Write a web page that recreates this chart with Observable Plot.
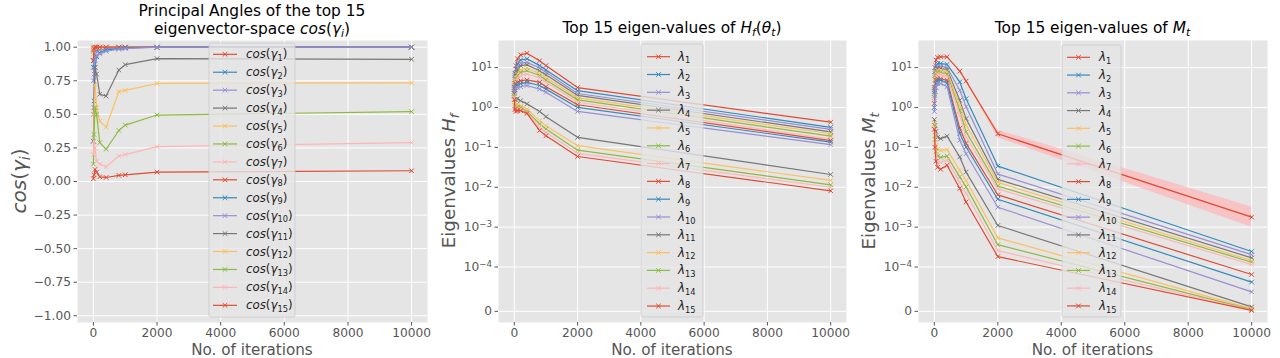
<!DOCTYPE html>
<html><head><meta charset="utf-8">
<script src="https://cdn.jsdelivr.net/npm/d3@7"></script>
<script src="https://cdn.jsdelivr.net/npm/@observablehq/plot@0.6"></script>
<style>
html,body{margin:0;padding:0;background:#fff;}
#fig{position:relative;width:1280px;height:358px;overflow:hidden;font-family:"DejaVu Sans",sans-serif;}
#fig > svg{position:absolute;top:0;}
</style></head><body><div id="fig"></div>
<script>
// ---------- data ----------
const iterations = [0, 20, 50, 100, 200, 400, 800, 1000, 2000, 10000];
const xTicks = [0, 2000, 4000, 6000, 8000, 10000];
const cosTicks = [-1, -0.75, -0.5, -0.25, 0, 0.25, 0.5, 0.75, 1];
const eigTickValues = [0, 1e-4, 1e-3, 1e-2, 1e-1, 1, 10];
const eigTickLabels = ["0", "10⁻⁴", "10⁻³", "10⁻²", "10⁻¹", "10⁰", "10¹"];
const palette = ["#E24A33", "#348ABD", "#988ED5", "#777777", "#FBC15E", "#8EBA42", "#FFB5B8"];

// cos(gamma_i), one row per i = 1..15, one value per iteration
const cosGamma = [
  [0.98, 1.00, 1.00, 1.00, 1.00, 1.00, 1.00, 1.00, 1.00, 1.00],
  [0.85, 0.97, 0.99, 0.995, 1.00, 1.00, 1.00, 1.00, 1.00, 1.00],
  [0.75, 0.90, 0.95, 0.97, 0.98, 0.99, 0.995, 1.00, 1.00, 1.00],
  [0.90, 0.98, 0.99, 1.00, 1.00, 1.00, 1.00, 1.00, 1.00, 1.00],
  [0.95, 1.00, 1.00, 1.00, 1.00, 1.00, 1.00, 1.00, 1.00, 1.00],
  [0.90, 0.99, 1.00, 1.00, 1.00, 1.00, 1.00, 1.00, 1.00, 1.00],
  [0.97, 1.00, 1.00, 1.00, 1.00, 1.00, 1.00, 1.00, 1.00, 1.00],
  [0.90, 0.99, 1.00, 1.00, 1.00, 1.00, 1.00, 1.00, 1.00, 1.00],
  [0.30, 0.60, 0.85, 0.93, 0.96, 0.98, 0.99, 0.995, 1.00, 1.00],
  [0.50, 0.80, 0.90, 0.94, 0.95, 0.97, 0.985, 0.99, 1.00, 1.00],
  [0.30, 0.55, 0.85, 0.80, 0.65, 0.636, 0.83, 0.87, 0.915, 0.91],
  [0.20, 0.50, 0.72, 0.55, 0.45, 0.405, 0.67, 0.678, 0.73, 0.735],
  [0.13, 0.35, 0.55, 0.50, 0.29, 0.24, 0.38, 0.42, 0.495, 0.52],
  [0.20, 0.30, 0.25, 0.15, 0.13, 0.11, 0.19, 0.20, 0.26, 0.29],
  [0.02, 0.05, 0.09, 0.07, 0.035, 0.03, 0.045, 0.05, 0.07, 0.08]
];

// top-15 eigenvalues of H_f(theta_t)
const eigHf = [
  [3.98, 7.08, 11.2, 16.6, 20.9, 22.9, 14.8, 11.2, 3.16, 0.427],
  [3.55, 6.31, 9.12, 12.3, 15.5, 16.6, 11.2, 8.71, 2.63, 0.316],
  [3.16, 5.62, 7.59, 10.0, 12.9, 13.5, 9.77, 7.59, 2.24, 0.282],
  [3.16, 5.01, 6.92, 8.71, 11.2, 11.7, 8.32, 6.61, 2.00, 0.245],
  [2.82, 4.47, 5.62, 6.92, 8.71, 9.77, 7.08, 5.62, 1.74, 0.219],
  [2.82, 3.98, 5.13, 6.31, 7.59, 8.32, 6.31, 4.90, 1.55, 0.191],
  [2.51, 3.55, 4.68, 5.50, 6.31, 6.92, 5.50, 4.27, 1.35, 0.162],
  [2.51, 3.16, 3.89, 4.27, 4.68, 4.90, 4.27, 3.31, 1.17, 0.148],
  [2.24, 2.82, 3.55, 3.72, 3.98, 4.27, 3.55, 2.88, 1.00, 0.135],
  [2.00, 2.51, 3.16, 3.16, 3.31, 3.55, 2.88, 2.40, 0.794, 0.117],
  [2.24, 1.58, 1.58, 1.66, 1.48, 1.23, 0.794, 0.589, 0.178, 0.0209],
  [2.00, 1.26, 1.12, 1.15, 1.11, 0.912, 0.468, 0.347, 0.110, 0.0148],
  [1.91, 1.12, 1.00, 1.02, 1.00, 0.794, 0.389, 0.288, 0.0851, 0.0115],
  [1.78, 1.00, 0.891, 0.912, 0.891, 0.741, 0.316, 0.240, 0.0708, 0.0100],
  [1.58, 0.891, 0.794, 0.832, 0.832, 0.708, 0.263, 0.195, 0.0589, 0.00813]
];

// top-15 eigenvalues of M_t
const eigMt = [
  [3.16, 10.0, 15.5, 18.2, 18.6, 18.6, 8.13, 4.57, 0.219, 0.00178],
  [2.82, 7.94, 11.2, 12.6, 12.6, 12.0, 4.37, 1.66, 0.0339, 0.000245],
  [2.51, 7.08, 9.55, 10.7, 10.7, 10.0, 2.69, 1.05, 0.0214, 0.000204],
  [2.24, 6.31, 8.51, 9.55, 9.55, 8.91, 1.51, 0.525, 0.0158, 0.000170],
  [2.00, 5.62, 7.59, 8.51, 8.51, 7.94, 1.12, 0.363, 0.0132, 0.000145],
  [1.78, 5.01, 6.76, 7.59, 7.59, 6.92, 0.832, 0.245, 0.0107, 0.000132],
  [1.58, 3.98, 6.03, 6.76, 6.76, 6.03, 0.631, 0.182, 0.00912, 0.000115],
  [1.26, 3.16, 4.79, 5.25, 5.25, 4.79, 0.302, 0.126, 0.00646, 0.000083],
  [1.00, 2.51, 3.98, 4.79, 4.79, 4.17, 0.224, 0.102, 0.00501, 0.000066],
  [0.794, 2.00, 3.16, 3.98, 3.98, 3.31, 0.151, 0.0692, 0.00316, 0.000044],
  [0.501, 0.355, 0.251, 0.178, 0.166, 0.191, 0.0575, 0.0240, 0.00110, 0.000010],
  [0.398, 0.200, 0.112, 0.0891, 0.0832, 0.0891, 0.0263, 0.0148, 0.000537, 0.000006],
  [0.355, 0.158, 0.0794, 0.0603, 0.0562, 0.0603, 0.0182, 0.0102, 0.000363, 0.000004],
  [0.316, 0.126, 0.0631, 0.0447, 0.0417, 0.0479, 0.0132, 0.00708, 0.000257, 0.000003],
  [0.282, 0.100, 0.0447, 0.0316, 0.0282, 0.0355, 0.00933, 0.00427, 0.000182, 0.000002]
];

// spread band around lambda_1 of M_t
const mtBandIterations = [1000, 2000, 10000];
const mtBandLow = [4.50, 0.175, 0.00100];
const mtBandHigh = [4.65, 0.270, 0.00320];

// ---------- helpers ----------
const LINTHRESH = 1e-4, LINSCALE = 1 / (1 - 1 / 10);
const symlog = v => v <= LINTHRESH ? v / LINTHRESH * LINSCALE : Math.log10(v / LINTHRESH) + LINSCALE;
const eigTicksT = eigTickValues.map(symlog);
const eigFormat = d => eigTickLabels[eigTicksT.indexOf(d)];
const identity = v => v;
const supMap = {"⁻": "−", "⁰": "0", "¹": "1", "²": "2", "³": "3", "⁴": "4"};

const N = t => ({t});
const I = t => ({t, i: true});
const S = (t, i) => ({t, sub: true, i});

function mathText(g, x, y, segs, fs, opts = {}) {
  const t = g.append("text")
    .attr("x", x).attr("y", y)
    .attr("font-size", fs)
    .attr("font-family", "DejaVu Sans")
    .attr("text-anchor", opts.anchor || "middle")
    .attr("fill", opts.fill || "#000");
  if (opts.rotate) t.attr("transform", `rotate(-90 ${x} ${y})`);
  let shift = 0;
  segs.forEach(s => {
    const sp = t.append("tspan").text(s.t);
    if (s.i) sp.attr("font-style", "italic");
    const target = s.sub ? fs * 0.22 : 0;
    if (target !== shift) { sp.attr("dy", target - shift); shift = target; }
    if (s.sub) sp.attr("font-size", fs * 0.7);
  });
  return t;
}

function superscriptTicks(svg) {
  d3.select(svg).selectAll('g[aria-label="y-axis tick label"] text').each(function () {
    const txt = this.textContent;
    if (!txt.startsWith("10")) return;
    const exp = Array.from(txt.slice(2)).map(c => supMap[c] || c).join("");
    const sel = d3.select(this);
    sel.text("10");
    sel.append("tspan").attr("dy", "-0.45em").attr("font-size", "8.6px").text(exp);
  });
}

function legend(svg, L, labelFor) {
  const g = d3.select(svg).append("g");
  g.append("rect").attr("x", L.x).attr("y", L.y).attr("width", L.w).attr("height", L.h)
    .attr("rx", 2).attr("fill", "#E5E5E5").attr("fill-opacity", 0.8)
    .attr("stroke", "#CCCCCC").attr("stroke-opacity", 0.8);
  for (let k = 0; k < 15; k++) {
    const cy = L.y0 + k * L.step, col = palette[k % 7];
    const mx = (L.lx1 + L.lx2) / 2;
    g.append("line").attr("x1", L.lx1).attr("x2", L.lx2).attr("y1", cy).attr("y2", cy)
      .attr("stroke", col).attr("stroke-width", 1.2);
    g.append("path").attr("d", `M${mx-2.3},${cy-2.3}L${mx+2.3},${cy+2.3}M${mx-2.3},${cy+2.3}L${mx+2.3},${cy-2.3}`)
      .attr("stroke", col).attr("stroke-width", 1);
    mathText(g, L.tx, cy + 4, labelFor(k), 11.8, {anchor: "start", fill: "#222"});
  }
}

function makePanel(cfg) {
  const {left, width, ml, mr, yDomain, yTicks, yFormat, series, tf} = cfg;
  const marks = [
    Plot.frame({fill: "#E5E5E5", stroke: "none"}),
    Plot.gridX(xTicks, {stroke: "#ffffff", strokeOpacity: 1, strokeWidth: 1}),
    Plot.gridY(yTicks, {stroke: "#ffffff", strokeOpacity: 1, strokeWidth: 1}),
    Plot.axisX(xTicks, {tickFormat: d => String(d), tickSize: 3.5, tickPadding: 2.5, label: null, fontSize: 12.2}),
    Plot.axisY(yTicks, {tickFormat: yFormat, tickSize: 3.5, tickPadding: 3, label: null, fontSize: 12.2})
  ];
  if (cfg.band) {
    const rows = cfg.band.x.map((x, j) => ({x, lo: cfg.band.lo[j], hi: cfg.band.hi[j]}));
    marks.push(Plot.areaY(rows, {x: "x", y1: d => tf(d.lo), y2: d => tf(d.hi), fill: "#FFB5B8", fillOpacity: 0.7}));
  }
  series.forEach((vals, k) => {
    const rows = iterations.map((x, j) => ({x, v: vals[j]}));
    const col = palette[k % 7];
    marks.push(Plot.line(rows, {x: "x", y: d => tf(d.v), stroke: col, strokeWidth: 1.2}));
    marks.push(Plot.dot(rows, {x: "x", y: d => tf(d.v), symbol: "times", r: 2.2, stroke: col, strokeWidth: 1}));
  });
  const svg = Plot.plot({
    width, height: 358,
    marginLeft: ml, marginRight: mr, marginTop: 40, marginBottom: 36,
    x: {domain: [-500, 10500]},
    y: {domain: yDomain},
    style: {fontFamily: "DejaVu Sans", fontSize: "12px", color: "#555555", background: "transparent", overflow: "visible"},
    marks
  });
  svg.style.left = left + "px";
  document.getElementById("fig").appendChild(svg);
  return svg;
}

const XLABEL_Y = 354.5;

// ---------- panel 1 ----------
const svg1 = makePanel({left: 0, width: 430, ml: 77, mr: 3, yDomain: [-1.05, 1.05],
  yTicks: cosTicks, yFormat: d3.format(".2f"), series: cosGamma, tf: identity});
{
  const g = d3.select(svg1).append("g");
  mathText(g, 252, 16, [N("Principal Angles of the top 15")], 15.4);
  mathText(g, 252, 33.5, [N("eigenvector-space "), I("cos"), N("("), I("γ"), S("i", true), N(")")], 15.4);
  mathText(g, 252, XLABEL_Y, [N("No. of iterations")], 15.2, {fill: "#555555"});
  mathText(g, 26, 181, [I("cos"), N("("), I("γ"), S("i", true), N(")")], 20, {fill: "#555555", rotate: true});
  legend(svg1, {x: 209, y: 43, w: 86, h: 274, y0: 54.3, step: 17.93, lx1: 213, lx2: 237, tx: 246},
    k => [I("cos"), N("("), I("γ"), S(String(k + 1)), N(")")]);
}

// ---------- panel 2 ----------
const svg2 = makePanel({left: 430, width: 430, ml: 68, mr: 14, yDomain: [-0.28, 6.79],
  yTicks: eigTicksT, yFormat: eigFormat, series: eigHf, tf: symlog});
superscriptTicks(svg2);
{
  const g = d3.select(svg2).append("g");
  mathText(g, 242, 33, [N("Top 15 eigen-values of "), I("H"), S("f", true), N("("), I("θ"), S("t", true), N(")")], 15.4);
  mathText(g, 242, XLABEL_Y, [N("No. of iterations")], 15.2, {fill: "#555555"});
  mathText(g, 25, 181, [N("Eigenvalues "), I("H"), S("f", true)], 18.3, {fill: "#555555", rotate: true});
  legend(svg2, {x: 211, y: 44, w: 62, h: 273, y0: 56.7, step: 17.81, lx1: 217, lx2: 240, tx: 248},
    k => [I("λ"), S(String(k + 1))]);
}

// ---------- panel 3 ----------
const svg3 = makePanel({left: 860, width: 420, ml: 58, mr: 13, yDomain: [-0.28, 6.79],
  yTicks: eigTicksT, yFormat: eigFormat, series: eigMt, tf: symlog,
  band: {x: mtBandIterations, lo: mtBandLow, hi: mtBandHigh}});
superscriptTicks(svg3);
{
  const g = d3.select(svg3).append("g");
  mathText(g, 232.5, 33, [N("Top 15 eigen-values of "), I("M"), S("t", true)], 15.4);
  mathText(g, 232.5, XLABEL_Y, [N("No. of iterations")], 15.2, {fill: "#555555"});
  mathText(g, 15, 181, [N("Eigenvalues "), I("M"), S("t", true)], 18.3, {fill: "#555555", rotate: true});
  legend(svg3, {x: 202, y: 45, w: 59, h: 272, y0: 57.3, step: 17.76, lx1: 207, lx2: 230, tx: 239},
    k => [I("λ"), S(String(k + 1))]);
}
</script></body></html>
